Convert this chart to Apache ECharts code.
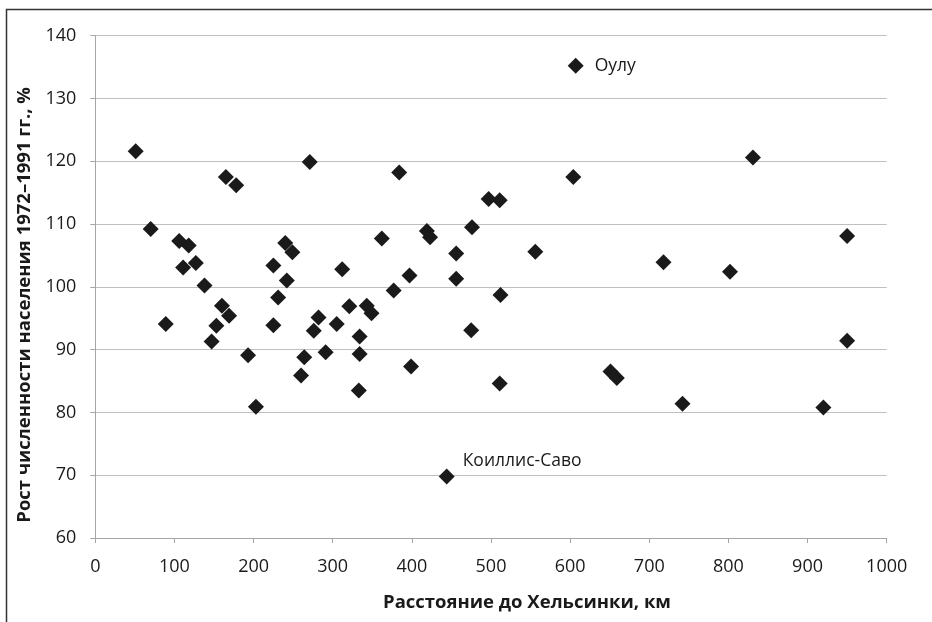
<!DOCTYPE html>
<html><head><meta charset="utf-8">
<script src="https://cdn.jsdelivr.net/npm/echarts@6/dist/echarts.min.js"></script>
<style>html,body{margin:0;padding:0;background:#fff}#c{width:932px;height:622px}</style>
</head><body><div id="c"></div>
<script>
const distances = [51, 70, 89, 106, 111, 118, 127, 138, 147, 153, 160, 165, 169, 178, 193, 203, 225, 225, 231, 240, 242, 249, 260, 264, 271, 276, 282, 291, 305, 312, 321, 343, 349, 334, 334, 333, 362, 377, 384, 397, 399, 419, 423, 444, 456, 456, 475, 476, 497, 511, 511, 512, 556, 604, 607, 651, 659, 718, 742, 802, 831, 920, 950, 950];
const growth = [121.6, 109.2, 94.1, 107.3, 103.1, 106.6, 103.8, 100.2, 91.3, 93.8, 97.0, 117.5, 95.4, 116.2, 89.1, 80.9, 103.4, 93.9, 98.3, 107.0, 101.0, 105.5, 85.9, 88.8, 119.9, 93.0, 95.1, 89.6, 94.1, 102.8, 96.9, 97.0, 95.8, 92.1, 89.3, 83.5, 107.7, 99.4, 118.2, 101.8, 87.3, 108.9, 107.9, 69.8, 105.3, 101.3, 93.1, 109.5, 114.0, 113.8, 84.6, 98.7, 105.6, 117.5, 135.2, 86.5, 85.5, 103.9, 81.4, 102.4, 120.6, 80.8, 108.1, 91.4];
const pointNames = {54: 'Оулу', 43: 'Коиллис-Саво'};
const xTitle = 'Расстояние до Хельсинки, км';
const yTitle = 'Рост численности населения 1972–1991 гг., %';

const data = distances.map((d, i) => {
  const item = {value: [d, growth[i]]};
  if (pointNames[i]) {
    item.label = {show: true, formatter: pointNames[i], position: 'right',
      offset: i === 54 ? [6, 0] : [3, -15]};
  }
  return item;
});

const chart = echarts.init(document.getElementById('c'), null, {renderer: 'canvas'});
const font = '"Open Sans", "Noto Sans", sans-serif';
chart.setOption({
  animation: false,
  backgroundColor: '#fff',
  grid: {left: 95.3, right: 45.3, top: 35.7, bottom: 84, containLabel: false},
  xAxis: {
    type: 'value', min: 0, max: 1000, interval: 100,
    name: xTitle, nameLocation: 'middle', nameGap: 55,
    nameTextStyle: {fontFamily: font, fontWeight: 'bold', fontSize: 18.5, color: '#1a1a1a', padding: [0, 0, 0, 72]},
    axisLine: {show: true, lineStyle: {color: '#a6a6a6', width: 1}},
    axisTick: {show: true, length: 5, lineStyle: {color: '#a6a6a6'}},
    axisLabel: {fontFamily: font, fontSize: 18, color: '#1a1a1a', margin: 20, formatter: v => String(v)},
    splitLine: {show: false}
  },
  yAxis: {
    type: 'value', min: 60, max: 140, interval: 10,
    name: yTitle, nameLocation: 'middle', nameGap: 61, nameRotate: 90,
    nameTextStyle: {fontFamily: font, fontWeight: 'bold', fontSize: 18.5, color: '#1a1a1a', padding: [0, 36, 0, 0]},
    axisLine: {show: true, lineStyle: {color: '#a6a6a6', width: 1}},
    axisTick: {show: true, length: 5, lineStyle: {color: '#a6a6a6'}},
    axisLabel: {fontFamily: font, fontSize: 18, color: '#1a1a1a', margin: 19},
    splitLine: {show: true, lineStyle: {color: '#bfbfbf', width: 1}}
  },
  graphic: [{
    type: 'polyline', silent: true,
    shape: {points: [[6.5, 622], [6.5, 9.5], [932, 9.5]]},
    style: {stroke: '#333', lineWidth: 1.5, fill: null}
  }],
  series: [{
    type: 'scatter',
    symbol: 'diamond',
    symbolSize: 16,
    itemStyle: {color: '#1a1a1a', opacity: 1},
    label: {fontFamily: font, fontSize: 17.5, color: '#1a1a1a'},
    data: data
  }]
});
</script></body></html>
